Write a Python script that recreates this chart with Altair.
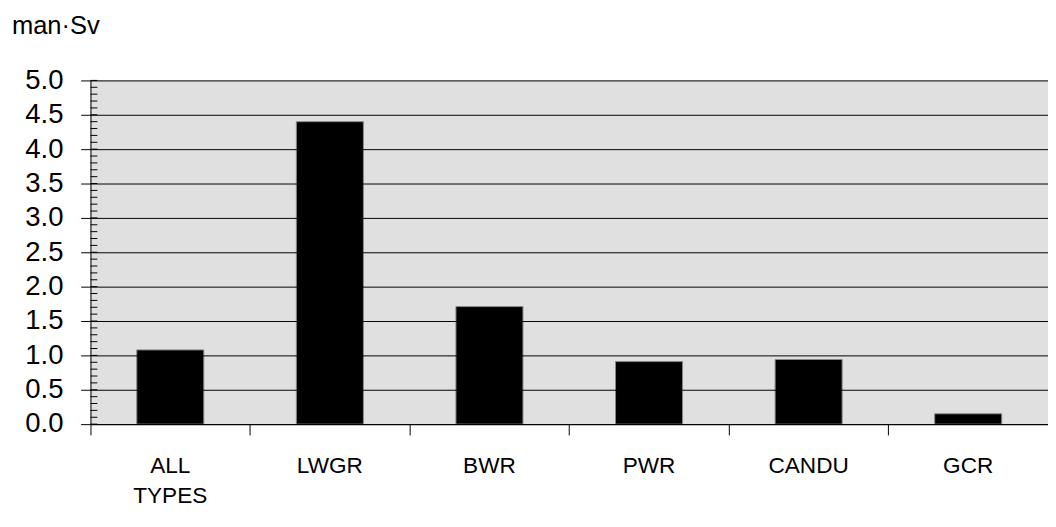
import altair as alt
import pandas as pd

types = ["ALL TYPES", "LWGR", "BWR", "PWR", "CANDU", "GCR"]
dose = [1.08, 4.4, 1.71, 0.91, 0.94, 0.15]
minor_ticks = [i / 10 for i in range(51)]

bars_df = pd.DataFrame({"type": types, "dose": dose})
minor_df = pd.DataFrame({"v": minor_ticks})

font = "Liberation Sans"
W, H = 975, 350
yscale = alt.Scale(domain=[0, 5])
yaxis = alt.Axis(
    title=None, values=[i / 2 for i in range(11)], format=".1f",
    labelFont=font, labelFontSize=28, labelColor="black",
    tickColor="black", tickSize=10, domainColor="black",
    gridColor="black", gridOpacity=1, labelPadding=18, zindex=1,
)

background = alt.Chart(bars_df).mark_rect(color="#e0e0e0").encode(
    x=alt.value(0), x2=alt.value(W), y=alt.value(0), y2=alt.value(H)
)

bars = (
    alt.Chart(bars_df)
    .mark_bar(color="black", stroke="#888", strokeWidth=1, width={"band": 0.42})
    .encode(
        x=alt.X(
            "type:N",
            sort=types,
            scale=alt.Scale(paddingInner=0, paddingOuter=0),
            axis=alt.Axis(
                title=None, labelAngle=0, labelFont=font, labelFontSize=23,
                labelColor="black", tickColor="black", tickSize=11, domainColor="black",
                bandPosition=0, labelPadding=20, labelLineHeight=31,
                labelExpr="split(datum.label, ' ')", zindex=1,
            ),
        ),
        y=alt.Y("dose:Q", scale=yscale, axis=yaxis),
    )
)

# small inner ticks every 0.1 along the value axis
minor = alt.Chart(minor_df).mark_rule(color="black", strokeWidth=1).encode(
    y=alt.Y("v:Q", scale=yscale, axis=yaxis),
    x=alt.value(0),
    x2=alt.value(7),
)

chart = (
    alt.layer(background, bars, minor)
    .properties(
        width=W, height=H,
        autosize=alt.AutoSizeParams(type="none"),
        padding={"left": 84, "top": 69, "right": 0, "bottom": 100},
        title=alt.TitleParams(
            "man·Sv", anchor="start", frame="group", font=font, fontSize=26,
            fontWeight="normal", color="black", dx=-80, offset=28,
        ),
    )
    .configure_view(stroke="transparent")
    .configure(background="white")
)

chart.save("out.html", embed_options={"renderer": "svg", "actions": False})
